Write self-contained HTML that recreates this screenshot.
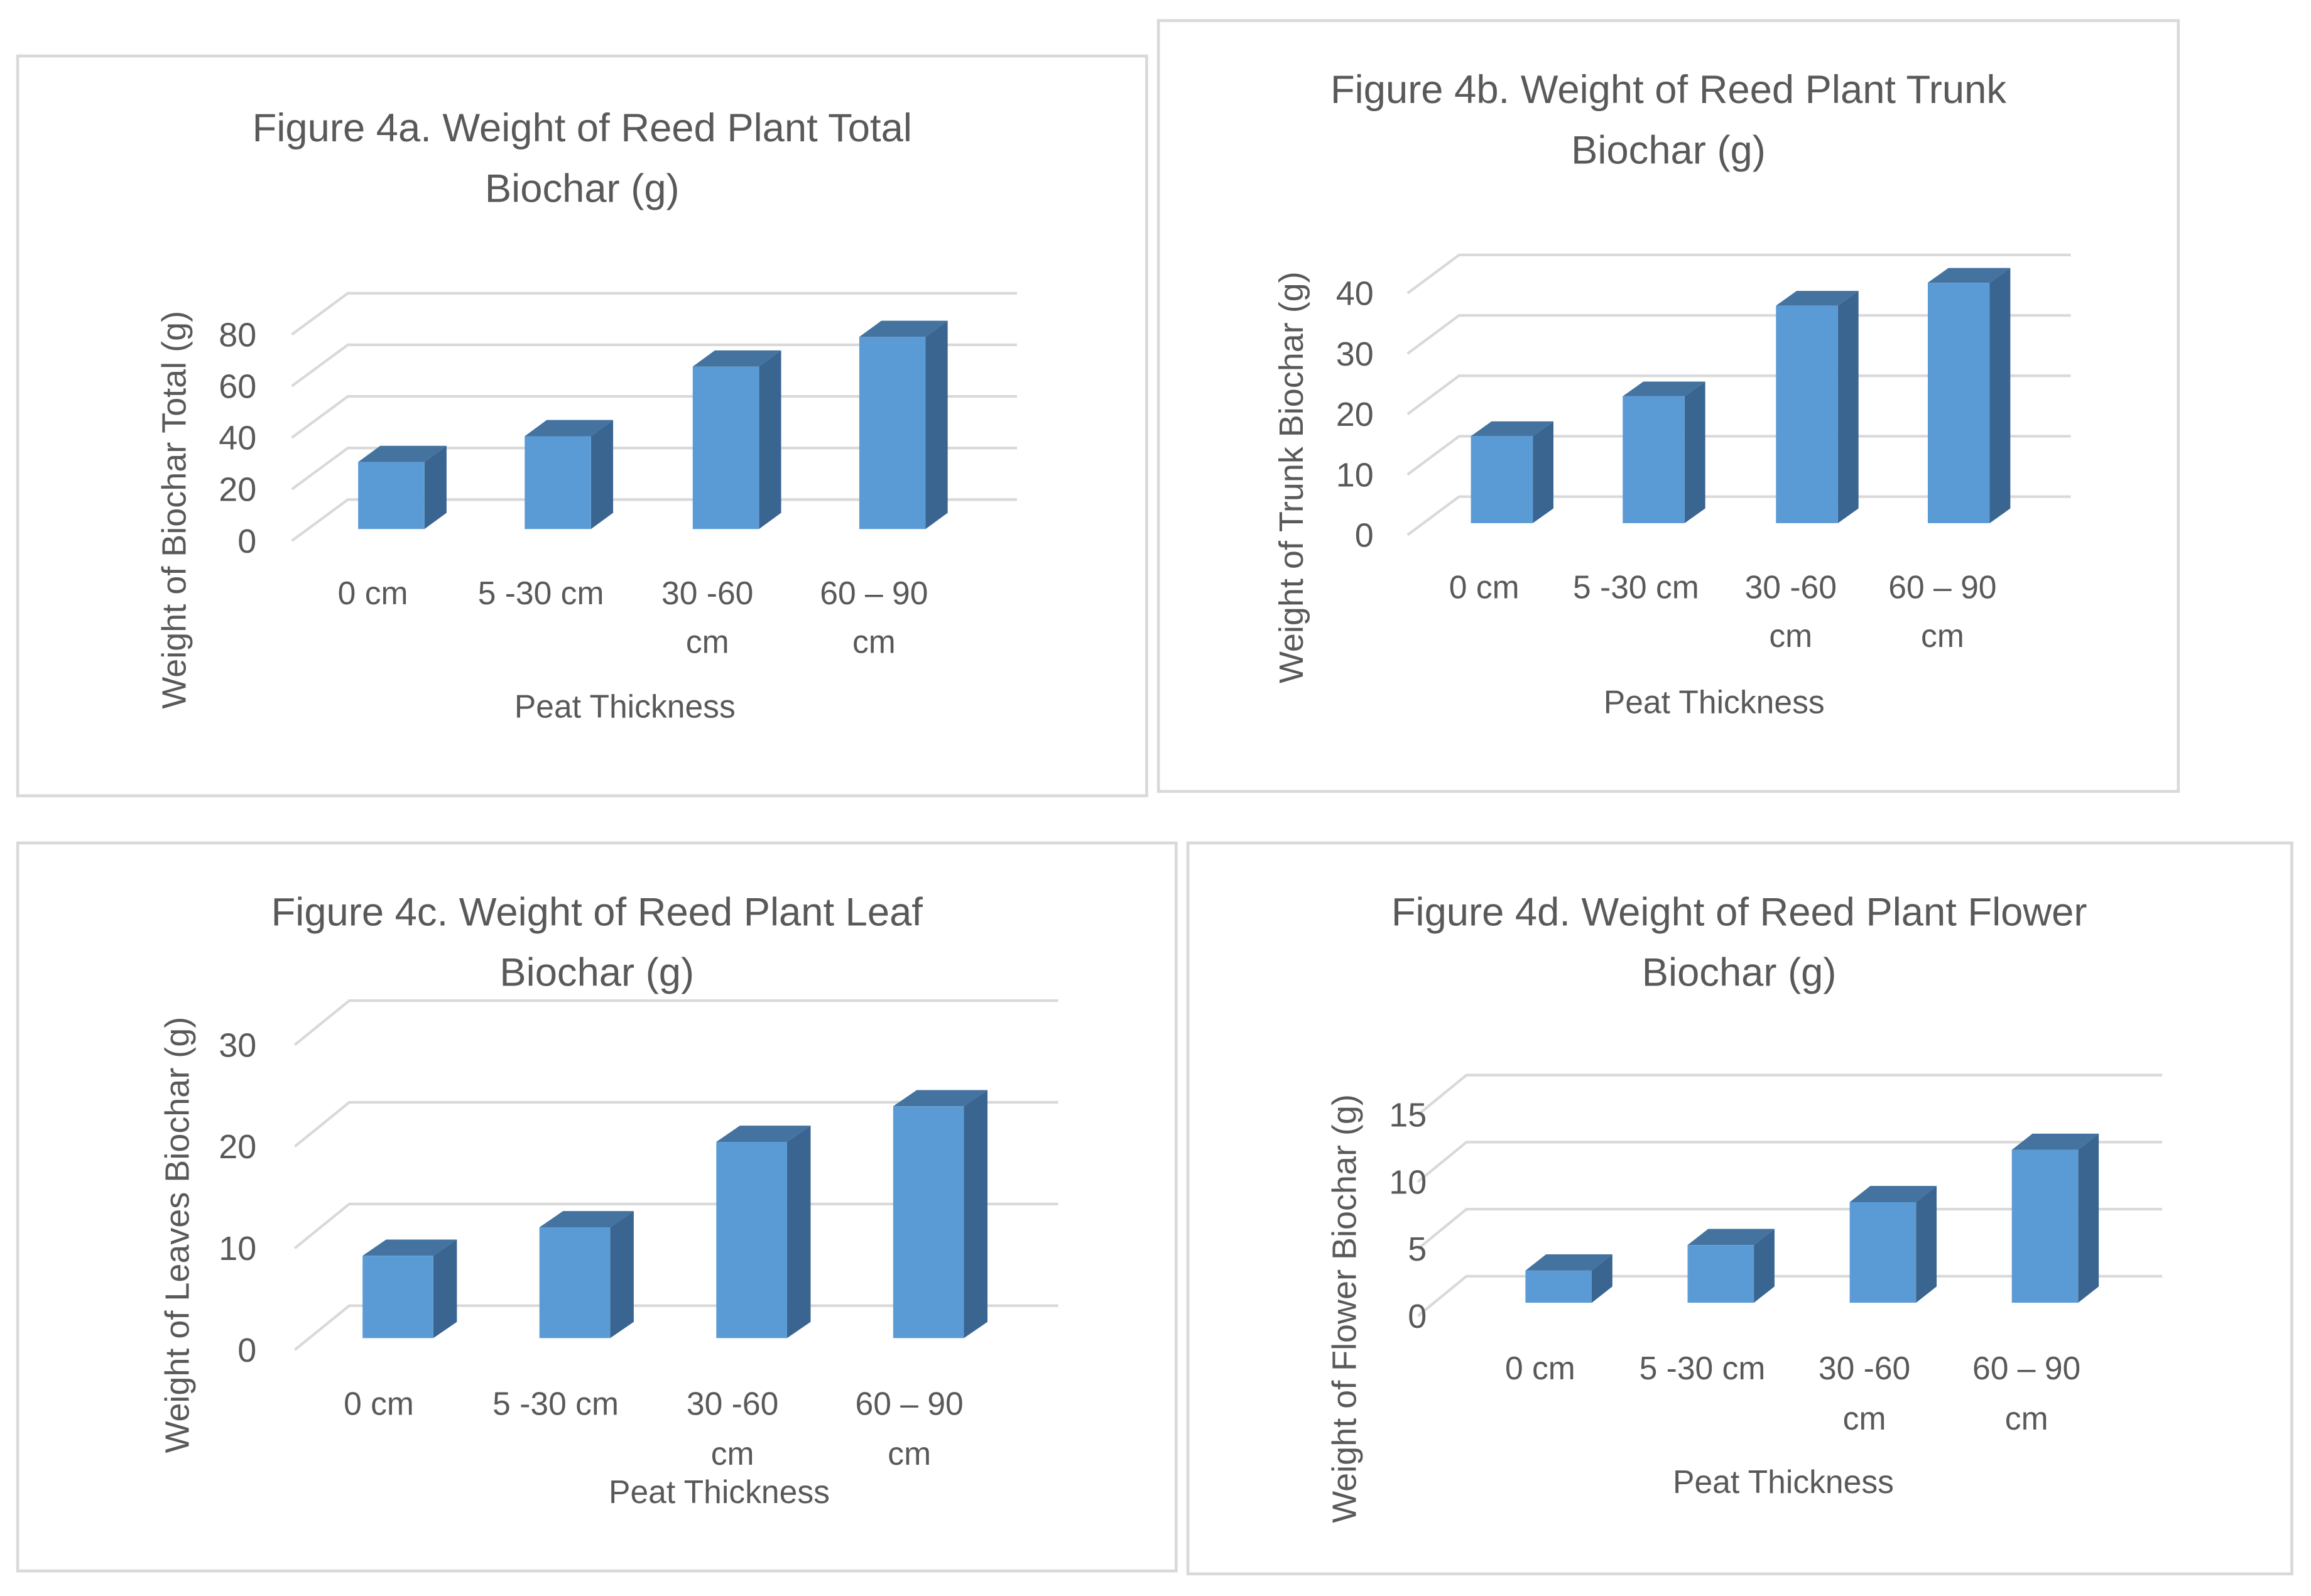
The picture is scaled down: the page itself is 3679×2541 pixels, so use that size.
<!DOCTYPE html>
<html><head><meta charset="utf-8"><style>
html,body{margin:0;padding:0;background:#fff;}
svg{display:block;}
text{font-family:"Liberation Sans",sans-serif;fill:#595959;}
</style></head><body>
<svg id="chart" width="3679" height="2541" viewBox="0 0 1568 1083" preserveAspectRatio="none" xmlns="http://www.w3.org/2000/svg"></svg>
<script>
const categories = ["0 cm", "5 -30 cm", "30 -60 cm", "60 – 90 cm"];
const valuesA = [26, 36, 63, 74.5];
const valuesB = [14.4, 21, 36, 39.8];
const valuesC = [8.1, 10.9, 19.3, 22.8];
const valuesD = [2.4, 4.3, 7.5, 11.4];
const ticksA = [0, 20, 40, 60, 80];
const ticksB = [0, 10, 20, 30, 40];
const ticksC = [0, 10, 20, 30];
const ticksD = [0, 5, 10, 15];
const titlesA = ["Figure 4a. Weight of Reed Plant Total", "Biochar (g)"];
const titlesB = ["Figure 4b. Weight of Reed Plant Trunk", "Biochar (g)"];
const titlesC = ["Figure 4c. Weight of Reed Plant Leaf", "Biochar (g)"];
const titlesD = ["Figure 4d. Weight of Reed Plant Flower", "Biochar (g)"];
const yTitles = ["Weight of Biochar Total (g)", "Weight of Trunk Biochar (g)", "Weight of Leaves Biochar (g)", "Weight of Flower Biochar (g)"];

const NS = "http://www.w3.org/2000/svg";
const svg = document.getElementById("chart");
function mk(tag, attrs, parent) {
  const e = document.createElementNS(NS, tag);
  for (const k in attrs) e.setAttribute(k, attrs[k]);
  (parent || svg).appendChild(e);
  return e;
}

const layouts = [
  {id:"a", box:[12,38,778,540], tcx:395, ty:[86,127], front0:367, scale:1.75, gx0:198, gdx:38, gdy:-28, gx1:690,
   base:359, bx:[243,356,470,583], bw:45, bd:15, bdy:-11, lx:[253,367,480,593], ly:[402,435], ptx:424, pty:479, ytx:118, yty:346, tickx:174},
  {id:"b", box:[786,14,1478,537], tcx:1132, ty:[60,101], front0:363, scale:4.1, gx0:955, gdx:35, gdy:-26, gx1:1405,
   base:355, bx:[998,1101,1205,1308], bw:42, bd:14, bdy:-10, lx:[1007,1110,1215,1318], ly:[398,431], ptx:1163, pty:476, ytx:876, yty:324, tickx:932},
  {id:"c", box:[12,572,798,1066], tcx:405, ty:[618,659], front0:916, scale:6.9, gx0:200, gdx:37, gdy:-30, gx1:718,
   base:908, bx:[246,366,486,606], bw:48, bd:16, bdy:-11, lx:[257,377,497,617], ly:[952,986], ptx:488, pty:1012, ytx:120, yty:838, tickx:174},
  {id:"d", box:[806,572,1555,1068], tcx:1180, ty:[618,659], front0:893, scale:9.1, gx0:962, gdx:33, gdy:-27, gx1:1467,
   base:884, bx:[1035,1145,1255,1365], bw:45, bd:14, bdy:-11, lx:[1045,1155,1265,1375], ly:[928,962], ptx:1210, pty:1005, ytx:912, yty:888, tickx:968}
];
const allValues = [valuesA, valuesB, valuesC, valuesD];
const allTicks = [ticksA, ticksB, ticksC, ticksD];
const allTitles = [titlesA, titlesB, titlesC, titlesD];

layouts.forEach((L, i) => {
  const vals = allValues[i], ticks = allTicks[i], titles = allTitles[i];
  const yFront = v => L.front0 - v * L.scale;
  const yBar = v => L.base - v * L.scale;
  const g = mk("g", {});
  
  
  const box = mk("rect", {x:L.box[0], y:L.box[1], width:L.box[2]-L.box[0], height:L.box[3]-L.box[1], fill:"#fff", stroke:"#d9d9d9", "stroke-width":2}, g);
  
  
  titles.forEach((t, k) => {
    const te = mk("text", {x:L.tcx, y:L.ty[k]+10, "text-anchor":"middle", "font-size":27, textLength: k===0 ? 0 : 0}, g);
    te.removeAttribute("textLength");
    te.textContent = t;
    
    
  });
  ticks.forEach(t => {
    const yf = yFront(t);
    const bx = L.gx0 + L.gdx, by = yf + L.gdy;
    const gl = mk("polyline", {points:`${L.gx0},${yf} ${bx},${by} ${L.gx1},${by}`, fill:"none", stroke:"#d9d9d9", "stroke-width":1.8}, g);
    
    
    const tl = mk("text", {x:L.tickx, y:yf+8, "text-anchor":"end", "font-size":23}, g);
    tl.textContent = String(t);
    
    
  });
  vals.forEach((v, k) => {
    const x = L.bx[k], w = L.bw, yb = L.base, yt = yBar(v), d = L.bd, dy = L.bdy;
    const bg = mk("g", {}, g);
    
    
    mk("polygon", {points:`${x+w},${yt} ${x+w+d},${yt+dy} ${x+w+d},${yb+dy} ${x+w},${yb}`, fill:"#3a6591"}, bg);
    mk("polygon", {points:`${x},${yt} ${x+d},${yt+dy} ${x+w+d},${yt+dy} ${x+w},${yt}`, fill:"#44739f"}, bg);
    mk("rect", {x:x, y:yt, width:w, height:yb-yt, fill:"#5b9bd5"}, bg);
  });
  categories.forEach((c, k) => {
    let lines = [c];
    if (c.indexOf("30 -60") === 0) lines = ["30 -60", "cm"];
    if (c.indexOf("60 –") === 0) lines = ["60 – 90", "cm"];
    lines.forEach((ln, j) => {
      const te = mk("text", {x:L.lx[k], y:L.ly[j]+8, "text-anchor":"middle", "font-size":22}, g);
      te.textContent = ln;
      
      
    });
  });
  const xt = mk("text", {x:L.ptx, y:L.pty+8, "text-anchor":"middle", "font-size":22}, g);
  xt.textContent = "Peat Thickness";
  
  
  const yt = mk("text", {x:0, y:0, "text-anchor":"middle", "font-size":23, transform:`translate(${L.ytx+8},${L.yty}) rotate(-90)`}, g);
  yt.textContent = yTitles[i];
  
  
});
</script>
</body></html>
